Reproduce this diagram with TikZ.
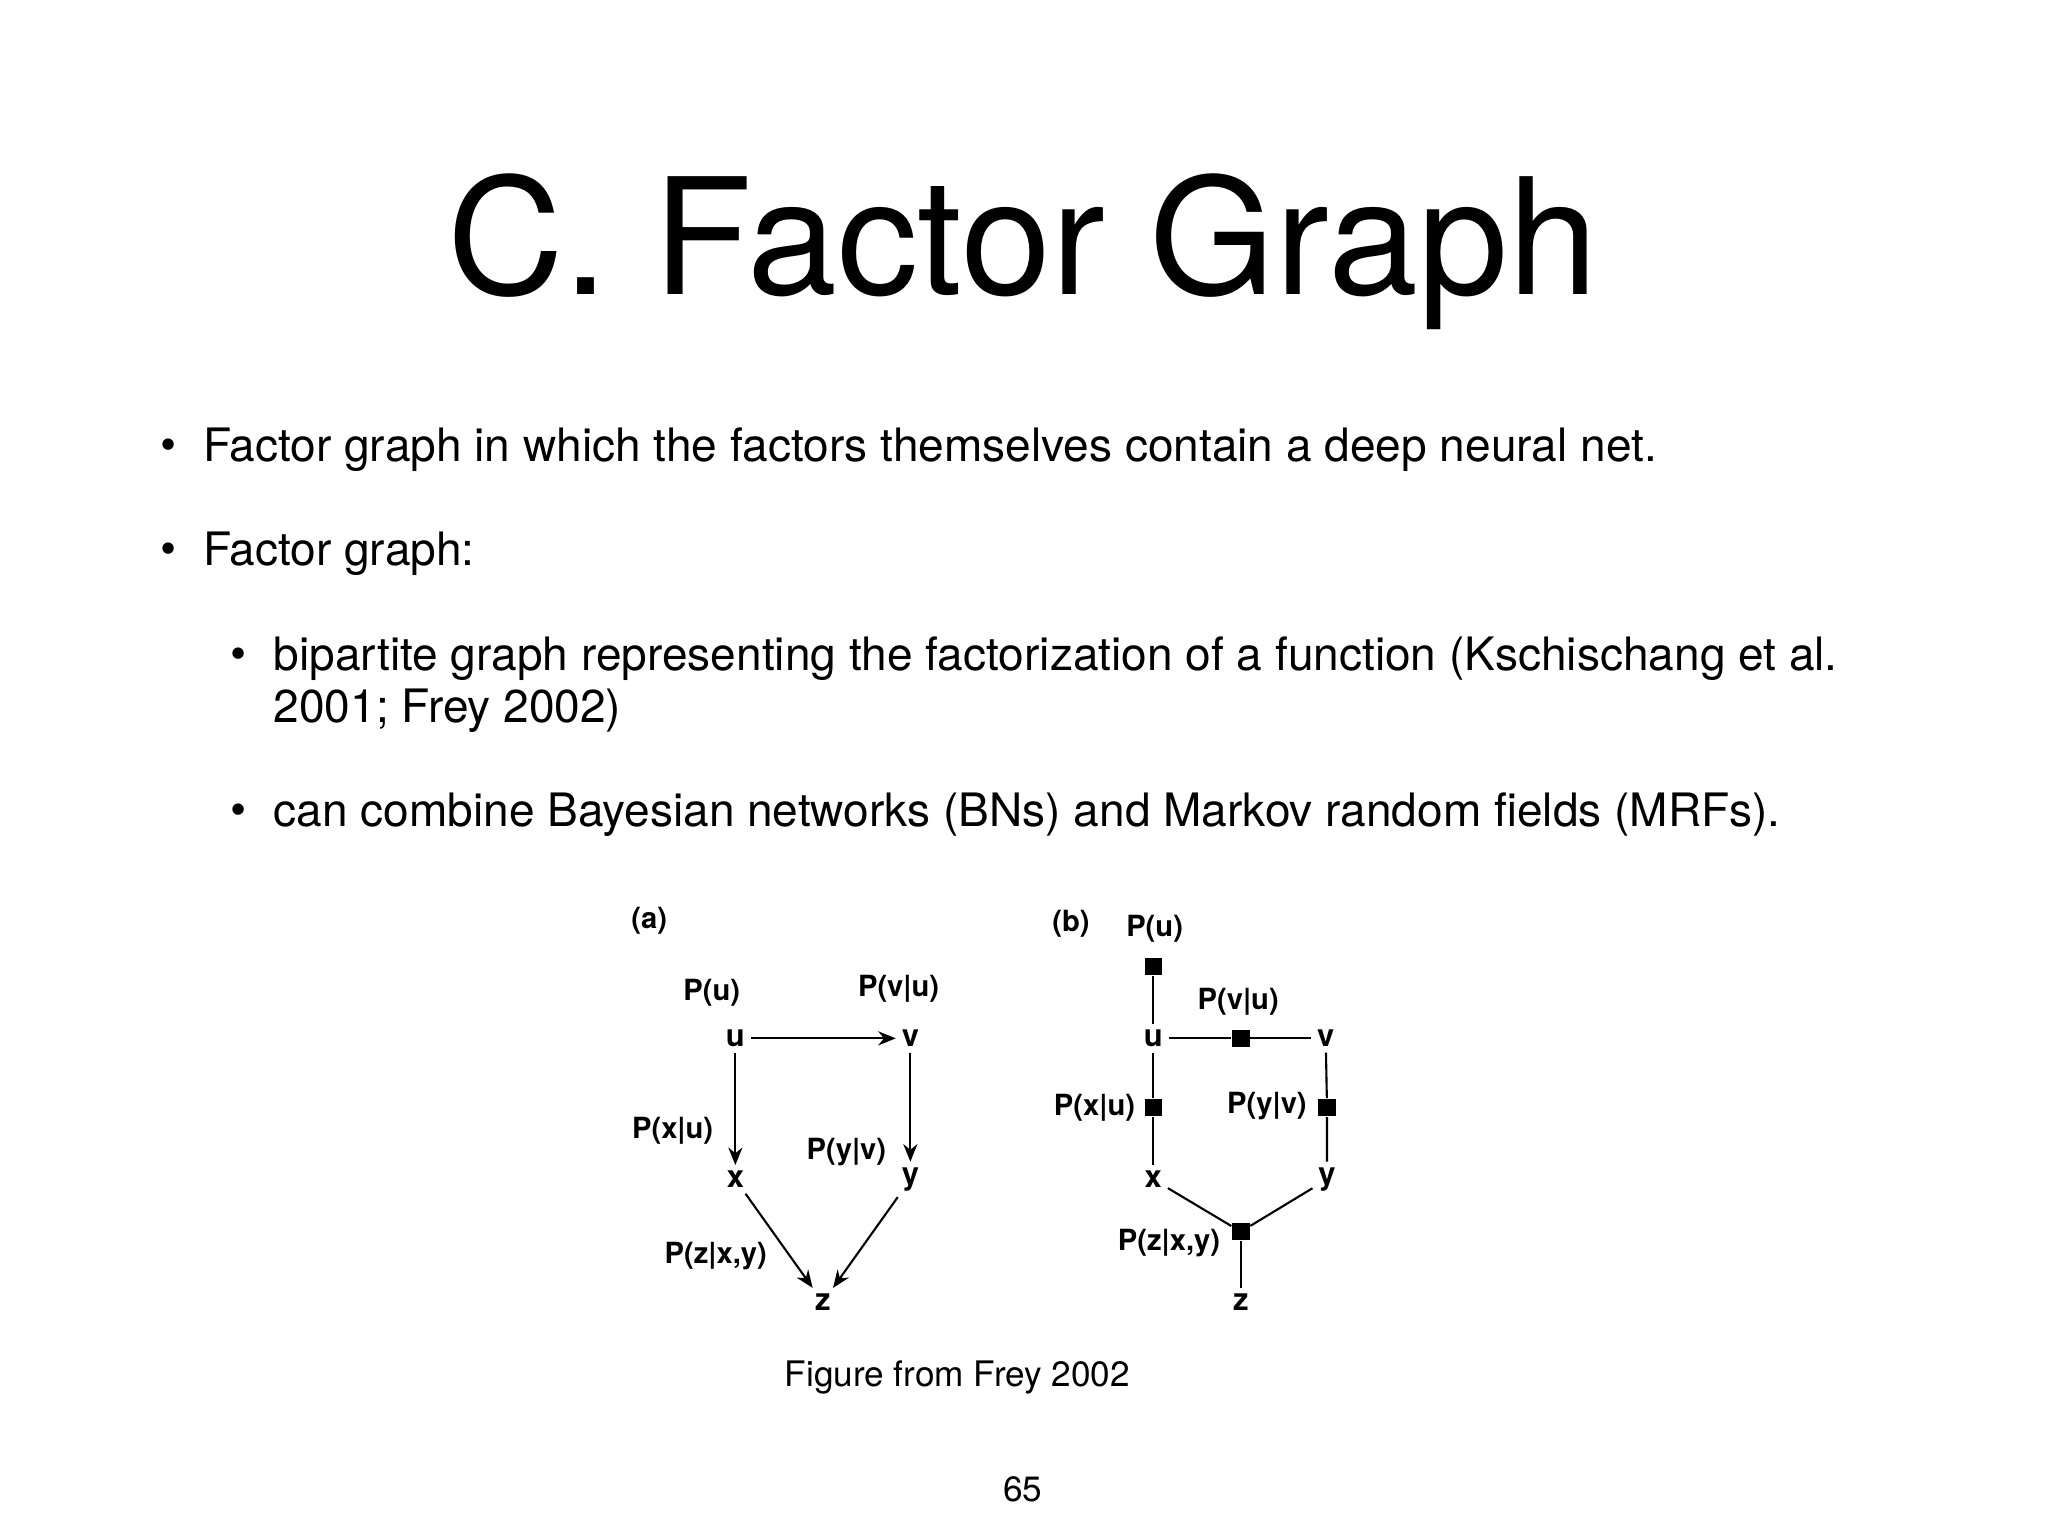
\documentclass[tikz,border=0pt]{standalone}
\usepackage{fontspec}
\setmainfont{TeX Gyre Heros}
\usetikzlibrary{arrows.meta}
\begin{document}
\begin{tikzpicture}[x=0.013061cm,y=-0.013061cm,
  lab/.style={font=\fontsize{8.3}{9}\selectfont\bfseries,inner sep=1pt},
  var/.style={font=\fontsize{8.8}{9}\selectfont\bfseries,inner sep=1.5pt},
  fac/.style={fill=black,minimum size=5pt,inner sep=0pt},
  arr/.style={-{Stealth[length=5pt,width=4pt]},line width=0.6pt},
  ln/.style={line width=0.6pt},
  bt/.style={font=\fontsize{13.1}{15}\selectfont,anchor=west,inner sep=0pt}]
\useasboundingbox (0,0) rectangle (1568,1176);
\node (title) at (783,193) {\fontsize{46}{54}\selectfont C. Factor Graph};
\node[bt] (b1d) at (122,344) {•};
\node[bt] (b1) at (155,344) {Factor graph in which the factors themselves contain a deep neural net.};
\node[bt] (b2d) at (122,424) {•};
\node[bt] (b2) at (155,424) {Factor graph:};
\node[bt] (b3d) at (176,504) {•};
\node[bt] (b3) at (209,504) {bipartite graph representing the factorization of a function (Kschischang et al.};
\node[bt] (b3b) at (209,544) {2001; Frey 2002)};
\node[bt] (b4d) at (176,624) {•};
\node[bt] (b4) at (209,624) {can combine Bayesian networks (BNs) and Markov random fields (MRFs).};
% (a)
\node[lab] (la) at (497,705) {(a)};
\node[lab] (pu) at (545,760) {P(u)};
\node[lab] (pvu) at (688,757) {P(v|u)};
\node[var] (u) at (563,795) {u};
\node[var] (v) at (697,795) {v};
\node[var] (x) at (563,903) {x};
\node[var] (y) at (697,903) {y};
\node[var] (z) at (630,997) {z};
\node[lab] (pxu) at (515,866) {P(x|u)};
\node[lab] (pyv) at (648,882) {P(y|v)};
\node[lab] (pz) at (548,962) {P(z|x,y)};
\draw[arr] (u) -- (v);
\draw[arr] (u) -- (x);
\draw[arr] (v) -- (y);
\draw[arr] (x) -- (z);
\draw[arr] (y) -- (z);
% (b)
\node[lab] (lb) at (820,707) {(b)};
\node[lab] (bpu) at (884,711) {P(u)};
\node[fac] (fu) at (883,740) {};
\node[var] (bu) at (883,795) {u};
\node[lab] (bpvu) at (948,767) {P(v|u)};
\node[fac] (fvu) at (950,795) {};
\node[var] (bv) at (1015,795) {v};
\node[lab] (bpxu) at (838,848) {P(x|u)};
\node[fac] (fxu) at (883,848) {};
\node[lab] (bpyv) at (970,847) {P(y|v)};
\node[fac] (fyv) at (1016,848) {};
\node[var] (bx) at (883,903) {x};
\node[var] (by) at (1016,903) {y};
\node[fac] (fz) at (950,943) {};
\node[lab] (bpz) at (895,952) {P(z|x,y)};
\node[var] (bz) at (950,997) {z};
\draw[ln] (fu) -- (bu);
\draw[ln] (bu) -- (fvu) -- (bv);
\draw[ln] (bu) -- (fxu) -- (bx);
\draw[ln] (bv) -- (fyv) -- (by);
\draw[ln] (bx) -- (fz) -- (by);
\draw[ln] (fz) -- (bz);
\node (cap) at (733,1055) {\fontsize{10}{12}\selectfont Figure from Frey 2002};
\node (pg) at (783,1140) {\fontsize{10}{12}\selectfont 65};
\end{tikzpicture}
\end{document}
